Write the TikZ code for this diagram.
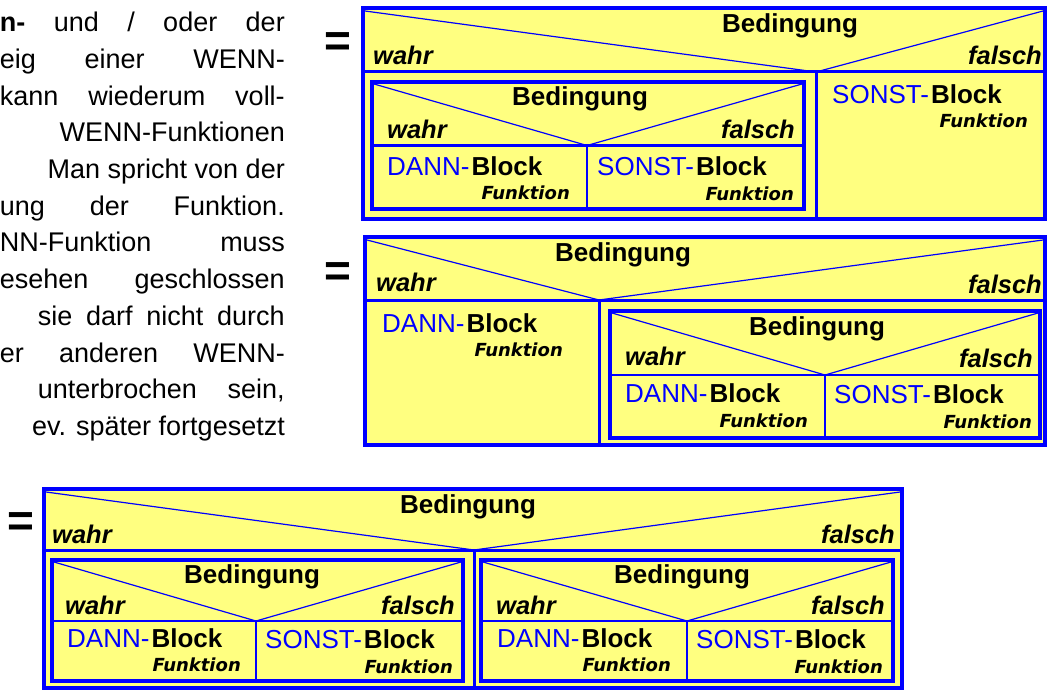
\documentclass[tikz,border=0pt]{standalone}
\usepackage{fontspec}
\setmainfont{Liberation Sans}
\newfontfamily\nsfont{DejaVu Sans}
\definecolor{nsblue}{RGB}{0,0,255}
\definecolor{nsyellow}{RGB}{255,255,128}
\tikzset{
  nsbox/.style={draw=nsblue, line width=4pt, fill=nsyellow},
  nsinner/.style={draw=nsblue, line width=3.5pt, fill=nsyellow},
  nsline/.style={draw=nsblue, line width=3pt},
  nsthin/.style={draw=nsblue, line width=2.5pt},
  nsdiag/.style={draw=nsblue, line width=1.2pt},
  condlbl/.style={font=\bfseries\fontsize{26}{26}\selectfont, inner sep=0pt, anchor=base west},
  truelbl/.style={font=\bfseries\itshape\fontsize{25.5}{26}\selectfont, inner sep=0pt, anchor=base west},
  falselbl/.style={font=\bfseries\itshape\fontsize{25.5}{26}\selectfont, inner sep=0pt, anchor=base east},
  blocklbl/.style={font=\bfseries\fontsize{26}{26}\selectfont, inner sep=0pt, anchor=base west},
  funclbl/.style={font=\nsfont\bfseries\itshape\fontsize{18}{18}\selectfont, inner sep=0pt, anchor=base east},
  paraline/.style={font=\fontsize{27}{30}\selectfont, inner sep=0pt, anchor=base east},
  eqsign/.style={font=\bfseries\fontsize{46}{46}\selectfont, inner sep=0pt, anchor=base}
}
\begin{document}
\begin{tikzpicture}[x=1pt,y=-1pt]
\useasboundingbox[fill=white] (0,0) rectangle (1048,690);

% text on the left
\node[paraline] (p1) at (285,31.7) {\hbox to 285pt{\textbf{n-}\hfill und\hfill /\hfill oder\hfill der}};
\node[paraline] (p2) at (285,68.4) {\hbox to 285pt{eig\hfill einer\hfill WENN-}};
\node[paraline] (p3) at (285,105.1) {\hbox to 285pt{kann\hfill wiederum\hfill voll-}};
\node[paraline] (p4) at (285,141.8) {WENN-Funktionen};
\node[paraline] (p5) at (285,178.5) {Man spricht von der};
\node[paraline] (p6) at (285,215.2) {\hbox to 285pt{ung\hfill der\hfill Funktion.}};
\node[paraline] (p7) at (285,251.9) {\hbox to 285pt{NN-Funktion\hfill muss}};
\node[paraline] (p8) at (285,288.6) {\hbox to 285pt{esehen\hfill geschlossen}};
\node[paraline] (p9) at (285,325.3) {\hbox to 247pt{sie\hfill darf\hfill nicht\hfill durch}};
\node[paraline] (p10) at (285,362) {\hbox to 285pt{er\hfill anderen\hfill WENN-}};
\node[paraline] (p11) at (285,398.7) {\hbox to 247pt{unterbrochen\hfill sein,}};
\node[paraline] (p12) at (285,435.4) {ev. später fortgesetzt};

% equal signs
\node[eqsign] (eqA) at (338,57) {=};
\node[eqsign] (eqB) at (338,286) {=};
\node[eqsign] (eqC) at (21,536) {=};

% outer blocks: left/top/right/bottom/header/divider
\foreach \l/\t/\r/\b/\h/\d in {363/8/1045/219/72/816, 365/237/1045/445/300/599, 44/489/902/688/550/474}{
  \draw[nsbox] (\l,\t) rectangle (\r,\b);
  \draw[nsline] (\l,\h) -- (\r,\h);
  \draw[nsline] (\d,\h) -- (\d,\b);
  \draw[nsdiag] (\l+2,\t+3) -- (\d,\h) -- (\r-2,\t+3);
}
% nested blocks
\foreach \l/\t/\r/\b/\h/\d in {372/82/804/209/145.5/587, 610/311/1040/438/375/825, 52/560/463/681/621/256, 481/560/893/681/621/687}{
  \draw[nsinner] (\l,\t) rectangle (\r,\b);
  \draw[nsthin] (\l,\h) -- (\r,\h);
  \draw[nsthin] (\d,\h) -- (\d,\b);
  \draw[nsdiag] (\l+2,\t+2) -- (\d,\h) -- (\r-2,\t+2);
}

% top block
\node[condlbl] (condA) at (722,33) {Bedingung};
\node[truelbl] (wahrA) at (373,65) {wahr};
\node[falselbl] (falschA) at (1042,65) {falsch};
\node[condlbl] (condAa) at (512,106) {Bedingung};
\node[truelbl] (wahrAa) at (387,139) {wahr};
\node[falselbl] (falschAa) at (795,139) {falsch};
\node[blocklbl] (dannAa) at (387,175) {\textcolor{nsblue}{\mdseries DANN-}\kern2pt Block};
\node[funclbl] (fnAa) at (570,199) {Funktion};
\node[blocklbl] (sonstAa) at (597,175) {\textcolor{nsblue}{\mdseries SONST-}\kern2pt Block};
\node[funclbl] (fnAb) at (794,200) {Funktion};
\node[blocklbl] (sonstA) at (832,103) {\textcolor{nsblue}{\mdseries SONST-}\kern2pt Block};
\node[funclbl] (fnA) at (1028,128) {Funktion};

% middle block
\node[condlbl] (condB) at (555,261) {Bedingung};
\node[truelbl] (wahrB) at (376,291) {wahr};
\node[falselbl] (falschB) at (1042,293) {falsch};
\node[blocklbl] (dannB) at (382,332) {\textcolor{nsblue}{\mdseries DANN-}\kern2pt Block};
\node[funclbl] (fnB) at (563,356) {Funktion};
\node[condlbl] (condBa) at (749,335) {Bedingung};
\node[truelbl] (wahrBa) at (625,365) {wahr};
\node[falselbl] (falschBa) at (1033,367) {falsch};
\node[blocklbl] (dannBa) at (625,402) {\textcolor{nsblue}{\mdseries DANN-}\kern2pt Block};
\node[funclbl] (fnBa) at (808,427) {Funktion};
\node[blocklbl] (sonstBa) at (834,403) {\textcolor{nsblue}{\mdseries SONST-}\kern2pt Block};
\node[funclbl] (fnBb) at (1032,428) {Funktion};

% bottom block
\node[condlbl] (condC) at (400,513) {Bedingung};
\node[truelbl] (wahrC) at (52,543) {wahr};
\node[falselbl] (falschC) at (895,543) {falsch};
\node[condlbl] (condCa) at (184,583) {Bedingung};
\node[truelbl] (wahrCa) at (65,614) {wahr};
\node[falselbl] (falschCa) at (455,614) {falsch};
\node[blocklbl] (dannCa) at (67,647) {\textcolor{nsblue}{\mdseries DANN-}\kern2pt Block};
\node[funclbl] (fnCa) at (241,671) {Funktion};
\node[blocklbl] (sonstCa) at (265,648) {\textcolor{nsblue}{\mdseries SONST-}\kern2pt Block};
\node[funclbl] (fnCb) at (453,673) {Funktion};
\node[condlbl] (condCb) at (614,583) {Bedingung};
\node[truelbl] (wahrCb) at (496,614) {wahr};
\node[falselbl] (falschCb) at (885,614) {falsch};
\node[blocklbl] (dannCb) at (497,647) {\textcolor{nsblue}{\mdseries DANN-}\kern2pt Block};
\node[funclbl] (fnCc) at (671,671) {Funktion};
\node[blocklbl] (sonstCb) at (696,648) {\textcolor{nsblue}{\mdseries SONST-}\kern2pt Block};
\node[funclbl] (fnCd) at (883,673) {Funktion};
\end{tikzpicture}
\end{document}
